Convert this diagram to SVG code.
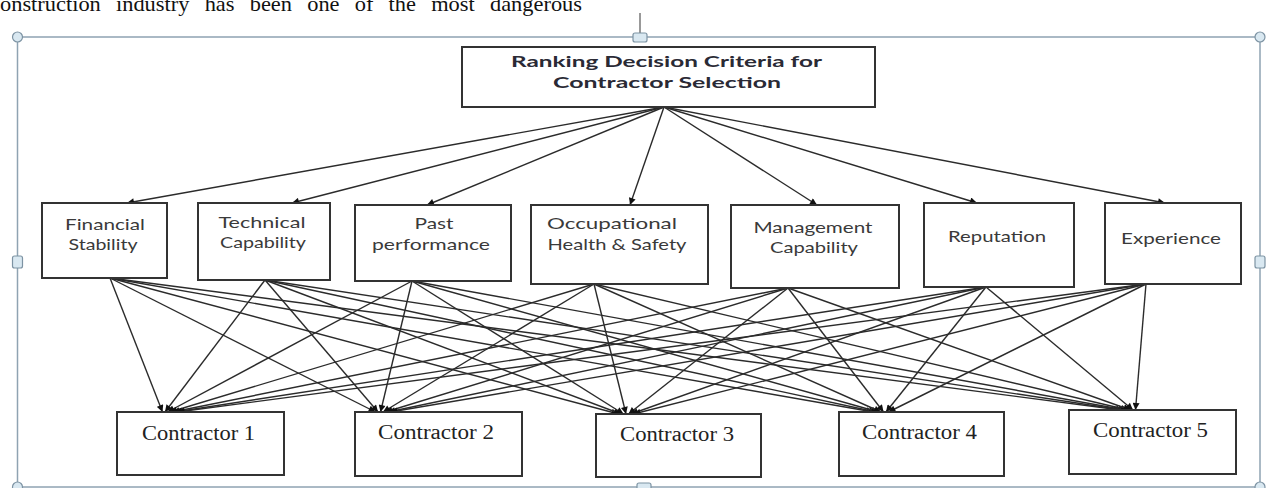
<svg xmlns="http://www.w3.org/2000/svg" width="1269" height="488" viewBox="0 0 1269 488">
<defs>
<style>
.box{fill:#fff;stroke:#333;stroke-width:2}
.crit{font-family:Lato,"Liberation Sans",sans-serif;font-size:16px;fill:#3a3a3a;text-anchor:middle}
.con{font-family:"Liberation Serif","Times New Roman",serif;font-size:20px;fill:#222;text-anchor:middle}
.title{font-family:Lato,"Liberation Sans",sans-serif;font-size:16px;font-weight:bold;fill:#2a2a35;text-anchor:middle}
.ln{stroke:#2b2b2b;stroke-width:1.4;marker-end:url(#ah)}
.frame{fill:none;stroke:#8fa3b2;stroke-width:1.5}
.hd{fill:#d9e8f1;stroke:#7d93a3;stroke-width:1.2}
</style>
<marker id="ah" viewBox="0 0 10 10" refX="10" refY="5" markerWidth="9" markerHeight="7" markerUnits="userSpaceOnUse" orient="auto">
<path d="M0,0 L10,5 L0,10 z" fill="#111"/>
</marker>
</defs>
<rect width="1269" height="488" fill="#fff"/>
<text x="0" y="11" font-family="Liberation Serif,'Times New Roman',serif" font-size="21" fill="#111" word-spacing="9" textLength="582" lengthAdjust="spacingAndGlyphs">onstruction industry has been one of the most dangerous</text>
<g id="frame">
<line x1="640" y1="13" x2="640" y2="33" stroke="#555" stroke-width="1.2"/>
<rect class="frame" x="17.5" y="37" width="1242.5" height="450"/>
<circle class="hd" cx="17.5" cy="37" r="5"/>
<circle class="hd" cx="1260" cy="37" r="5"/>
<circle class="hd" cx="17.5" cy="487" r="5"/>
<circle class="hd" cx="1260" cy="487" r="5"/>
<rect class="hd" x="633" y="33" width="14" height="9" rx="2"/>
<rect class="hd" x="637" y="483" width="14" height="9" rx="2"/>
<rect class="hd" x="12.5" y="256" width="10" height="12" rx="2"/>
<rect class="hd" x="1255" y="256" width="10" height="12" rx="2"/>
</g>
<g id="connectors">
<line class="ln" x1="664" y1="107" x2="127" y2="203"/>
<line class="ln" x1="664" y1="107" x2="292" y2="203"/>
<line class="ln" x1="664" y1="107" x2="427" y2="205"/>
<line class="ln" x1="664" y1="107" x2="630" y2="205"/>
<line class="ln" x1="664" y1="107" x2="817" y2="205"/>
<line class="ln" x1="664" y1="107" x2="977" y2="203"/>
<line class="ln" x1="664" y1="107" x2="1165" y2="203"/>

<line class="ln" x1="110" y1="278" x2="162.5" y2="412"/>
<line class="ln" x1="110" y1="278" x2="375.5" y2="412"/>
<line class="ln" x1="110" y1="278" x2="618.5" y2="414"/>
<line class="ln" x1="110" y1="278" x2="873.5" y2="412"/>
<line class="ln" x1="110" y1="278" x2="1120.5" y2="410"/>

<line class="ln" x1="265" y1="280" x2="165" y2="412"/>
<line class="ln" x1="265" y1="280" x2="378" y2="412"/>
<line class="ln" x1="265" y1="280" x2="621" y2="414"/>
<line class="ln" x1="265" y1="280" x2="876" y2="412"/>
<line class="ln" x1="265" y1="280" x2="1123" y2="410"/>

<line class="ln" x1="412" y1="281" x2="167.5" y2="412"/>
<line class="ln" x1="412" y1="281" x2="380.5" y2="412"/>
<line class="ln" x1="412" y1="281" x2="623.5" y2="414"/>
<line class="ln" x1="412" y1="281" x2="878.5" y2="412"/>
<line class="ln" x1="412" y1="281" x2="1125.5" y2="410"/>

<line class="ln" x1="594" y1="284" x2="170" y2="412"/>
<line class="ln" x1="594" y1="284" x2="383" y2="412"/>
<line class="ln" x1="594" y1="284" x2="626" y2="414"/>
<line class="ln" x1="594" y1="284" x2="881" y2="412"/>
<line class="ln" x1="594" y1="284" x2="1128" y2="410"/>

<line class="ln" x1="788" y1="288" x2="172.5" y2="412"/>
<line class="ln" x1="788" y1="288" x2="385.5" y2="412"/>
<line class="ln" x1="788" y1="288" x2="628.5" y2="414"/>
<line class="ln" x1="788" y1="288" x2="883.5" y2="412"/>
<line class="ln" x1="788" y1="288" x2="1130.5" y2="410"/>

<line class="ln" x1="986" y1="287" x2="175" y2="412"/>
<line class="ln" x1="986" y1="287" x2="388" y2="412"/>
<line class="ln" x1="986" y1="287" x2="631" y2="414"/>
<line class="ln" x1="986" y1="287" x2="886" y2="412"/>
<line class="ln" x1="986" y1="287" x2="1133" y2="410"/>

<line class="ln" x1="1146" y1="284" x2="177.5" y2="412"/>
<line class="ln" x1="1146" y1="284" x2="390.5" y2="412"/>
<line class="ln" x1="1146" y1="284" x2="633.5" y2="414"/>
<line class="ln" x1="1146" y1="284" x2="888.5" y2="412"/>
<line class="ln" x1="1146" y1="284" x2="1135.5" y2="410"/>
</g>
<g id="root">
<rect class="box" x="462" y="47" width="413" height="60"/>
<text class="title" x="666.5" y="67" textLength="311" lengthAdjust="spacingAndGlyphs">Ranking Decision Criteria for</text>
<text class="title" x="667" y="88" textLength="228" lengthAdjust="spacingAndGlyphs">Contractor Selection</text>
</g>
<g id="c-financial">
<rect class="box" x="42" y="203" width="125" height="75"/>
<text class="crit" x="105" y="230" textLength="80" lengthAdjust="spacingAndGlyphs">Financial</text>
<text class="crit" x="103" y="250" textLength="69" lengthAdjust="spacingAndGlyphs">Stability</text>
</g>
<g id="c-technical">
<rect class="box" x="198" y="203" width="132" height="77"/>
<text class="crit" x="262" y="228" textLength="87" lengthAdjust="spacingAndGlyphs">Technical</text>
<text class="crit" x="263" y="248" textLength="86" lengthAdjust="spacingAndGlyphs">Capability</text>
</g>
<g id="c-past">
<rect class="box" x="355" y="205" width="156" height="76"/>
<text class="crit" x="434" y="229" textLength="39" lengthAdjust="spacingAndGlyphs">Past</text>
<text class="crit" x="431" y="250" textLength="118" lengthAdjust="spacingAndGlyphs">performance</text>
</g>
<g id="c-ohs">
<rect class="box" x="531" y="205" width="177" height="79"/>
<text class="crit" x="612" y="229" textLength="130" lengthAdjust="spacingAndGlyphs">Occupational</text>
<text class="crit" x="617" y="250" textLength="139" lengthAdjust="spacingAndGlyphs">Health &amp; Safety</text>
</g>
<g id="c-management">
<rect class="box" x="731" y="205" width="168" height="83"/>
<text class="crit" x="813" y="233" textLength="119" lengthAdjust="spacingAndGlyphs">Management</text>
<text class="crit" x="814" y="253" textLength="88" lengthAdjust="spacingAndGlyphs">Capability</text>
</g>
<g id="c-reputation">
<rect class="box" x="924" y="203" width="150" height="84"/>
<text class="crit" x="997" y="242" textLength="98" lengthAdjust="spacingAndGlyphs">Reputation</text>
</g>
<g id="c-experience">
<rect class="box" x="1105" y="203" width="136" height="81"/>
<text class="crit" x="1171" y="244" textLength="100" lengthAdjust="spacingAndGlyphs">Experience</text>
</g>
<g id="k1">
<rect class="box" x="117" y="412" width="167" height="63"/>
<text class="con" x="198.5" y="440" textLength="113" lengthAdjust="spacingAndGlyphs">Contractor 1</text>
</g>
<g id="k2">
<rect class="box" x="355" y="412" width="167" height="64"/>
<text class="con" x="436" y="439" textLength="116" lengthAdjust="spacingAndGlyphs">Contractor 2</text>
</g>
<g id="k3">
<rect class="box" x="596" y="414" width="165" height="63"/>
<text class="con" x="677" y="441" textLength="114" lengthAdjust="spacingAndGlyphs">Contractor 3</text>
</g>
<g id="k4">
<rect class="box" x="839" y="412" width="165" height="64"/>
<text class="con" x="919.5" y="439" textLength="115" lengthAdjust="spacingAndGlyphs">Contractor 4</text>
</g>
<g id="k5">
<rect class="box" x="1069" y="410" width="167" height="64"/>
<text class="con" x="1150.5" y="437" textLength="115" lengthAdjust="spacingAndGlyphs">Contractor 5</text>
</g>
</svg>
